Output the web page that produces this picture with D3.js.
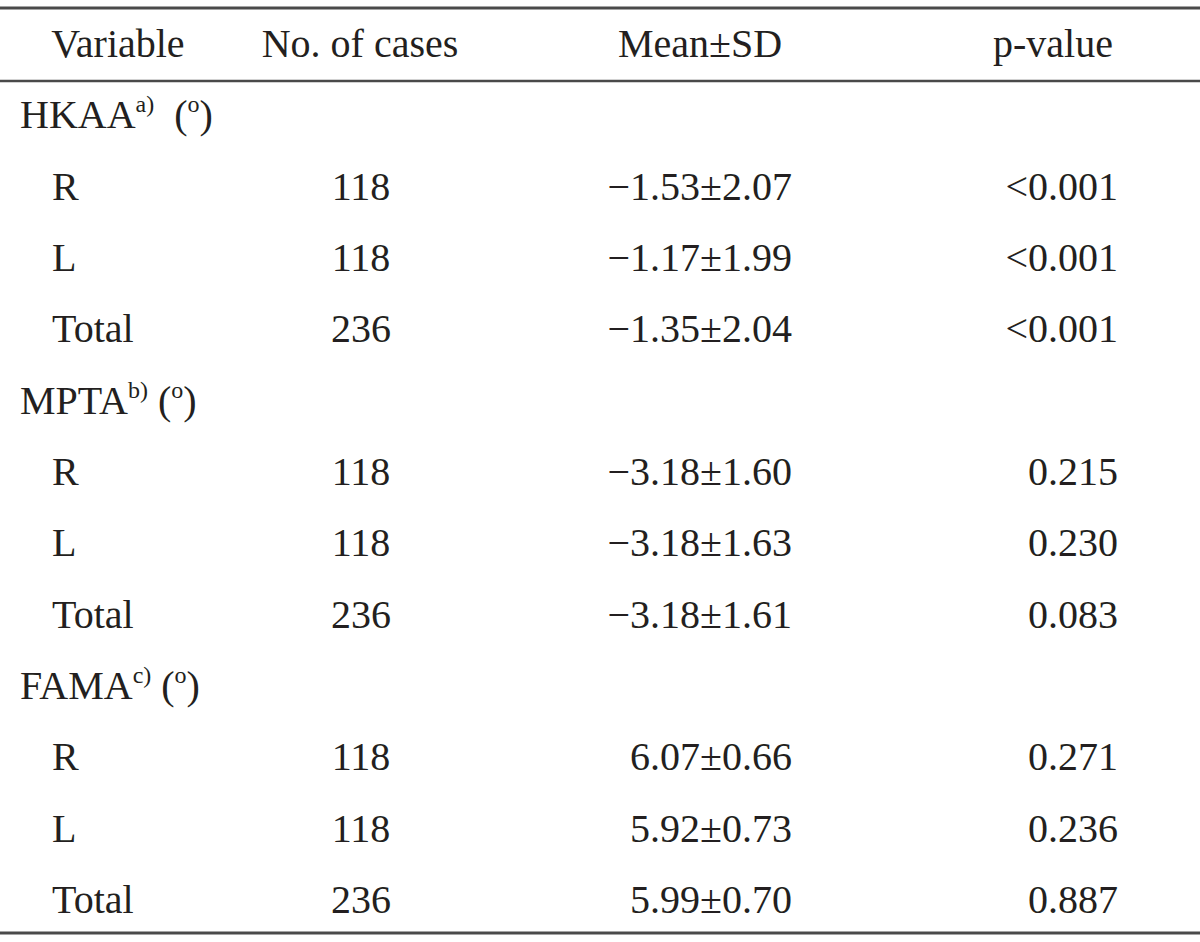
<!DOCTYPE html>
<html>
<head>
<meta charset="utf-8">
<script src="https://cdn.jsdelivr.net/npm/d3@7/dist/d3.min.js"></script>
<style>
  html, body { margin: 0; padding: 0; background: #fff; }
  svg { display: block; }
  text { font-family: "Liberation Serif", "DejaVu Serif", serif; fill: #231f20; }
</style>
</head>
<body>
<svg id="chart" width="1200" height="942"></svg>
<script>
// ---- data ----
const headers = ["Variable", "No. of cases", "Mean\u00B1SD", "p-value"];
const groups = ["HKAA", "MPTA", "FAMA"];
const groupNotes = ["a)", "b)", "c)"];
const sides = ["R", "L", "Total"];
const cases = [118, 118, 236, 118, 118, 236, 118, 118, 236];
const means = [-1.53, -1.17, -1.35, -3.18, -3.18, -3.18, 6.07, 5.92, 5.99];
const sds = [2.07, 1.99, 2.04, 1.60, 1.63, 1.61, 0.66, 0.73, 0.70];
const pValues = ["<0.001", "<0.001", "<0.001", "0.215", "0.230", "0.083", "0.271", "0.236", "0.887"];

// ---- layout ----
const svg = d3.select("#chart");
const W = 1200;
const fontSize = 40;

// row index 0 = header, then 12 body rows
const nRows = 1 + groups.length * (1 + sides.length);
const y = d3.scaleLinear().domain([0, nRows - 1]).range([57, 913]);

const headerX = d3.scaleOrdinal().domain(headers).range([118, 360, 700, 1053]);
const colX = { group: 20, side: 52, cases: 361, mean: 792, p: 1118 };
const fmt = d3.format(".2f");

// rules
const rules = [8, 81, 933];
svg.selectAll("line.rule").data(rules).join("line")
  .attr("class", "rule")
  .attr("x1", 0).attr("x2", W)
  .attr("y1", d => d).attr("y2", d => d)
  .attr("stroke", "#4a4a4a")
  .attr("stroke-width", (d, i) => i === 1 ? 2.5 : 3);

// headers
svg.selectAll("text.hdr").data(headers).join("text")
  .attr("class", "hdr")
  .attr("x", d => headerX(d))
  .attr("y", y(0))
  .attr("text-anchor", "middle")
  .attr("font-size", fontSize)
  .text(d => d);

// build rows
const rows = [];
groups.forEach((g, gi) => {
  rows.push({ type: "group", name: g, note: groupNotes[gi], idx: rows.length + 1 });
  sides.forEach((s, si) => {
    const k = gi * sides.length + si;
    rows.push({ type: "data", side: s, cases: cases[k], mean: means[k], sd: sds[k], p: pValues[k], idx: rows.length + 1 });
  });
});

const body = svg.append("g");

rows.forEach(r => {
  const yy = y(r.idx);
  if (r.type === "group") {
    const t = body.append("text")
      .attr("x", colX.group).attr("y", yy)
      .attr("font-size", fontSize);
    t.append("tspan").text(r.name);
    t.append("tspan").attr("font-size", 24).attr("dy", -16).text(r.note);
    t.append("tspan").attr("font-size", fontSize).attr("dy", 16)
      .text(r.name === "HKAA" ? "\u00A0\u00A0(" : "\u00A0(");
    t.append("tspan").attr("font-size", 24).attr("dy", -16).text("o");
    t.append("tspan").attr("font-size", fontSize).attr("dy", 16).text(")");
  } else {
    body.append("text")
      .attr("x", colX.side).attr("y", yy)
      .attr("font-size", fontSize).text(r.side);
    body.append("text")
      .attr("x", colX.cases).attr("y", yy)
      .attr("text-anchor", "middle")
      .attr("font-size", fontSize).text(r.cases);
    body.append("text")
      .attr("x", colX.mean).attr("y", yy)
      .attr("text-anchor", "end")
      .attr("font-size", fontSize).text(fmt(r.mean) + "\u00B1" + fmt(r.sd));
    body.append("text")
      .attr("x", colX.p).attr("y", yy)
      .attr("text-anchor", "end")
      .attr("font-size", fontSize).text(r.p);
  }
});
</script>
</body>
</html>
